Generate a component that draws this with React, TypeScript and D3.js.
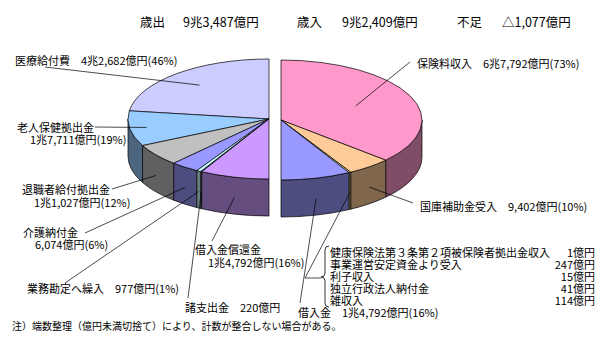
import * as d3 from "d3";

// 歳出 (left half) and 歳入 (right half), 億円
const expenseNames = ["医療給付費", "老人保健拠出金", "退職者給付拠出金", "介護納付金", "業務勘定へ繰入", "諸支出金", "借入金償還金"];
const expenseValues = [42682, 17711, 11027, 6074, 977, 220, 14792];
const expensePcts = ["46%", "19%", "12%", "6%", "1%", "", "16%"];

const revenueNames = ["保険料収入", "国庫補助金受入", "その他", "借入金"];
const otherNames = ["健康保険法第３条第２項被保険者拠出金収入", "事業運営安定資金より受入", "利子収入", "独立行政法人納付金", "雑収入"];
const otherValues = [1, 247, 15, 41, 114];
const revenueValues = [67792, 9402, d3.sum(otherValues), 14792];
const revenuePcts = ["73%", "10%", "", "16%"];

const totalLabels = ["歳出", "歳入", "不足"];
const totalValues = [93487, 92409, -1077];

const note = "注）端数整理（億円未満切捨て）により、計数が整合しない場合がある。";

const expenseColors = ["#CCCCFF", "#99CCFF", "#C0C0C0", "#9999FF", "#CCFFFF", "#99CCCC", "#CC99FF"];
const revenueColors = ["#FF99CC", "#FFCC99", "#FFFF99", "#9999FF"];

const FONT = "'Noto Sans CJK JP', 'Noto Sans', sans-serif";
const rx = 141, ry = 60, depth = 37;

// label layout: text positions per line, leader start
const expenseLayout = [
  { x: [15], y: [60], lead: [45, 67], f: 0.75 },
  { x: [17, 30], y: [127, 139], lead: [95, 127], f: 0.88 },
  { x: [22, 34], y: [189, 202], lead: [112, 189] },
  { x: [23, 35], y: [232, 244], lead: [85, 233] },
  { x: [27], y: [288], lead: [65, 283] },
  { x: [185], y: [307], lead: [188, 298] },
  { x: [195, 208], y: [249, 262], lead: [212, 241] },
];
const revenueLayout = [
  { x: [417], y: [63], lead: [410, 62], f: 0.58 },
  { x: [420], y: [206], lead: [413, 203] },
  { x: [], y: [], lead: [305, 278] },
  { x: [298], y: [312], lead: [300, 303] },
];

const oku = (v: number) => {
  const a = Math.abs(v);
  const cho = Math.floor(a / 10000);
  const rest = d3.format(",")(a % 10000);
  return (v < 0 ? "△" : "") + (cho ? `${cho}兆${rest}` : rest) + "億円";
};

const shade = (c: string) => {
  const r = d3.rgb(c);
  return d3.rgb(r.r * 0.5, r.g * 0.5, r.b * 0.5).formatHex();
};

function half(values: number[], cx: number, cy: number, dir: number) {
  const ang = d3.scaleLinear().domain([0, d3.sum(values)]).range([0, Math.PI]);
  const ends = Array.from(d3.cumsum(values));
  const starts = [0, ...ends.slice(0, -1)];
  const sweep = dir > 0 ? 1 : 0;
  const pt = (t: number, dy = 0, f = 1) => [cx + dir * rx * f * Math.sin(t), cy - ry * f * Math.cos(t) + dy];
  return values.map((v, i) => {
    const a = ang(starts[i]);
    const b = ang(ends[i]);
    const top = `M${cx},${cy} L${pt(a)} A${rx},${ry} 0 0 ${sweep} ${pt(b)} Z`;
    let side = null;
    if (b > Math.PI / 2) {
      const a2 = Math.max(a, Math.PI / 2);
      side = `M${pt(a2)} A${rx},${ry} 0 0 ${sweep} ${pt(b)} L${pt(b, depth)} A${rx},${ry} 0 0 ${1 - sweep} ${pt(a2, depth)} Z`;
    }
    const mid = (a + b) / 2;
    return { top, side, mid, pt };
  });
}

function HalfPie({ values, colors, cx, cy, dir, layout }) {
  const slices = half(values, cx, cy, dir);
  return (
    <g>
      {slices.map((s, i) =>
        s.side ? <path key={"s" + i} d={s.side} fill={shade(colors[i])} stroke="#000" strokeWidth={0.7} strokeLinejoin="round" /> : null
      )}
      {slices.map((s, i) => (
        <path key={"t" + i} d={s.top} fill={colors[i]} stroke="#000" strokeWidth={0.7} strokeLinejoin="round" />
      ))}
      {slices.map((s, i) => {
        const L = layout[i];
        const anchor = s.mid < Math.PI / 2 || L.f ? s.pt(s.mid, 0, L.f ?? 0.7) : s.pt(s.mid, depth * 0.55);
        return <line key={"l" + i} x1={L.lead[0]} y1={L.lead[1]} x2={anchor[0]} y2={anchor[1]} stroke="#000" strokeWidth={0.7} />;
      })}
    </g>
  );
}

function Labels({ names, values, pcts, layout }) {
  return (
    <g fontFamily={FONT} fontSize={11} fill="#000" dominantBaseline="central">
      {names.map((n, i) => {
        const L = layout[i];
        if (!L.x.length) return null;
        const amount = oku(values[i]) + (pcts[i] ? `(${pcts[i]})` : "");
        if (L.x.length === 1)
          return <text key={i} x={L.x[0]} y={L.y[0]} style={{ whiteSpace: "pre" }}>{`${n}　${amount}`}</text>;
        return (
          <g key={i}>
            <text x={L.x[0]} y={L.y[0]}>{n}</text>
            <text x={L.x[1]} y={L.y[1]}>{amount}</text>
          </g>
        );
      })}
    </g>
  );
}

export default function App() {
  const titleX = [[140, 183], [297, 342], [457, 502]];
  const rowY = d3.range(otherNames.length).map((i) => 252 + i * 12);
  return (
    <svg width={600} height={340} style={{ position: "absolute", left: 0, top: 0, background: "#fff" }}>
      <rect width={600} height={340} fill="#fff" />
      <g fontFamily={FONT} fontSize={12.5} fill="#000" dominantBaseline="central">
        {totalLabels.map((t, i) => (
          <g key={t}>
            <text x={titleX[i][0]} y={21}>{t}</text>
            <text x={titleX[i][1]} y={21}>{oku(totalValues[i])}</text>
          </g>
        ))}
      </g>
      <HalfPie values={expenseValues} colors={expenseColors} cx={269} cy={119} dir={-1} layout={expenseLayout} />
      <HalfPie values={revenueValues} colors={revenueColors} cx={281} cy={120} dir={1} layout={revenueLayout} />
      <Labels names={expenseNames} values={expenseValues} pcts={expensePcts} layout={expenseLayout} />
      <Labels names={revenueNames} values={revenueValues} pcts={revenuePcts} layout={revenueLayout} />
      <line x1={305} y1={278} x2={321} y2={278} stroke="#000" strokeWidth={0.7} />
      <path d="M329,246 Q325,246 325,250 L325,273 Q325,277 321,277 Q325,277 325,281 L325,303 Q325,307 329,307" fill="none" stroke="#000" strokeWidth={0.8} />
      <g fontFamily={FONT} fontSize={11} fill="#000" dominantBaseline="central">
        {otherNames.map((n, i) => (
          <g key={n}>
            <text x={330} y={rowY[i]}>{n}</text>
            <text x={595} y={rowY[i]} textAnchor="end">{oku(otherValues[i])}</text>
          </g>
        ))}
      </g>
      <text x={12} y={325} fontFamily={FONT} fontSize={10} fill="#000" dominantBaseline="central">{note}</text>
    </svg>
  );
}
